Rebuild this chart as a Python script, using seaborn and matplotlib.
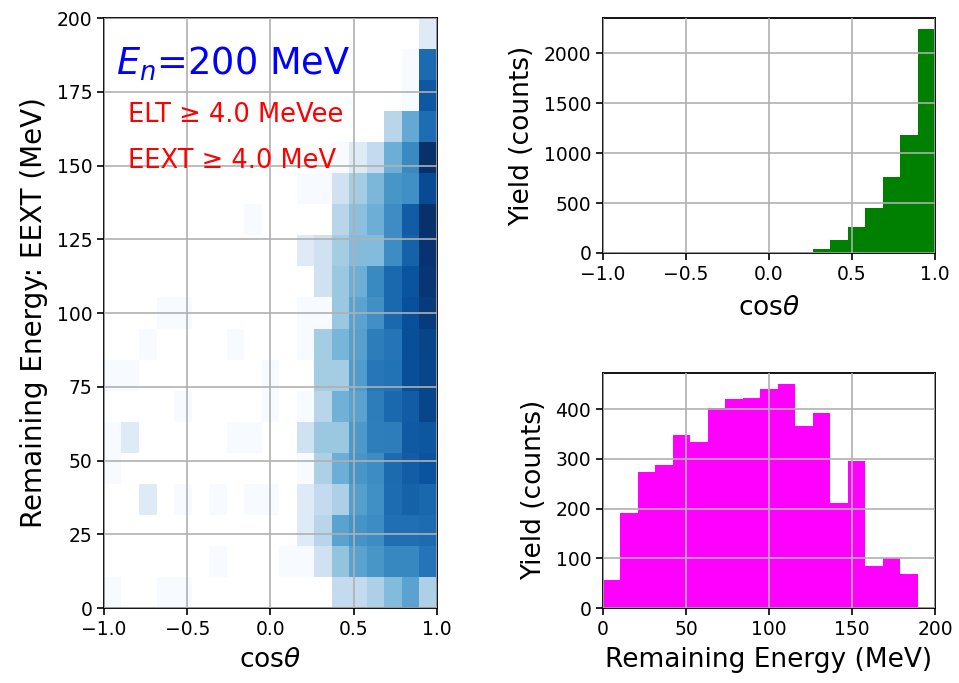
import numpy as np
import pandas as pd
import matplotlib
matplotlib.use("Agg")
import matplotlib.pyplot as plt
import seaborn as sns
from matplotlib.colors import LogNorm

# ---------------- data ----------------
cos_edges = np.linspace(-1.0, 1.0, 20)        # 19 bins in cos(theta)
energy_edges = np.linspace(0.0, 200.0, 20)    # 19 bins in energy (MeV)

# 2D histogram counts: rows = energy bins (low -> high), cols = cos bins (-1 -> 1)
counts_2d = [
    [1, 0, 0, 1, 1, 0, 0, 0, 0, 0, 0, 0, 0, 4, 4, 6, 11, 20, 6],
    [0, 0, 0, 0, 0, 0, 1, 0, 0, 0, 1, 1, 3, 9, 20, 27, 37, 37, 55],
    [0, 0, 0, 0, 0, 0, 0, 0, 0, 0, 0, 2, 5, 20, 28, 33, 60, 60, 65],
    [0, 0, 2, 0, 1, 0, 1, 0, 1, 1, 0, 2, 4, 6, 22, 31, 65, 80, 72],
    [1, 0, 0, 0, 0, 0, 0, 0, 0, 0, 0, 1, 6, 15, 27, 33, 67, 88, 110],
    [1, 2, 0, 0, 0, 0, 0, 1, 1, 0, 0, 3, 8, 8, 25, 45, 46, 95, 100],
    [0, 0, 0, 0, 1, 0, 0, 0, 0, 1, 0, 1, 5, 14, 20, 46, 70, 90, 148],
    [1, 1, 0, 0, 0, 0, 0, 0, 0, 1, 0, 0, 7, 7, 24, 51, 57, 122, 143],
    [0, 0, 1, 0, 0, 0, 0, 1, 0, 0, 0, 1, 7, 13, 21, 46, 54, 119, 152],
    [0, 0, 0, 1, 1, 0, 0, 0, 0, 0, 0, 1, 1, 8, 20, 31, 71, 116, 180],
    [0, 0, 0, 0, 0, 0, 0, 0, 0, 0, 0, 0, 3, 8, 15, 35, 71, 110, 200],
    [0, 0, 0, 0, 0, 0, 0, 0, 0, 0, 0, 2, 3, 7, 11, 11, 33, 79, 210],
    [0, 0, 0, 0, 0, 0, 0, 0, 1, 0, 0, 0, 0, 5, 10, 15, 33, 90, 225],
    [0, 0, 0, 0, 0, 0, 0, 0, 0, 0, 0, 1, 1, 3, 7, 12, 27, 31, 130],
    [0, 0, 0, 0, 0, 0, 0, 0, 0, 0, 0, 0, 0, 1, 2, 4, 15, 35, 228],
    [0, 0, 0, 0, 0, 0, 0, 0, 0, 0, 0, 0, 0, 0, 0, 0, 5, 17, 63],
    [0, 0, 0, 0, 0, 0, 0, 0, 0, 0, 0, 0, 0, 0, 0, 0, 0, 1, 99],
    [0, 0, 0, 0, 0, 0, 0, 0, 0, 0, 0, 0, 0, 0, 0, 0, 0, 1, 68],
    [0, 0, 0, 0, 0, 0, 0, 0, 0, 0, 0, 0, 0, 0, 0, 0, 0, 0, 2],
]

# 1D projections
cos_counts = [5, 3, 3, 2, 4, 0, 2, 2, 3, 3, 1, 8, 43, 133, 260, 450, 757, 1177, 2240]
energy_counts = [56, 192, 273, 288, 348, 335, 403, 421, 423, 441, 451, 367,
                 393, 212, 295, 85, 100, 69, 2]

cos_ticks = [-1.0, -0.5, 0.0, 0.5, 1.0]
eext_ticks = [0, 25, 50, 75, 100, 125, 150, 175, 200]
cos_yield_ticks = [0, 500, 1000, 1500, 2000]
energy_ticks = [0, 50, 100, 150, 200]
energy_yield_ticks = [0, 100, 200, 300, 400]

# ---------------- style ----------------
sns.set_style("ticks")
plt.rcParams['font.family'] = ['DejaVu Sans']
plt.rcParams['mathtext.fontset'] = 'dejavusans'
plt.rcParams['axes.unicode_minus'] = True
plt.rcParams['text.color'] = 'black'
plt.rcParams['axes.labelcolor'] = 'black'
plt.rcParams['xtick.color'] = 'black'
plt.rcParams['ytick.color'] = 'black'
plt.rcParams['xtick.labelcolor'] = 'black'
plt.rcParams['ytick.labelcolor'] = 'black'

TICK_FS = 13.5
LABEL_FS = 19
GRID_KW = dict(color='#b0b0b0', linewidth=1.2)

fig = plt.figure(figsize=(9.59, 6.83), dpi=100)
ax0 = fig.add_axes([0.1084, 0.1098, 0.3473, 0.8638])
ax1 = fig.add_axes([0.6288, 0.6296, 0.3462, 0.3441])
ax2 = fig.add_axes([0.6288, 0.1098, 0.3462, 0.3445])

# ---------------- 2D histogram ----------------
xc = (cos_edges[:-1] + cos_edges[1:]) / 2
yc = (energy_edges[:-1] + energy_edges[1:]) / 2
X, Y = np.meshgrid(xc, yc)
W = np.array(counts_2d, dtype=float)
m = W > 0
df2 = pd.DataFrame({'cos': X[m], 'E': Y[m], 'w': W[m]})
sns.histplot(data=df2, x='cos', y='E', weights='w',
             bins=[list(cos_edges), list(energy_edges)], cmap='Blues', ax=ax0)
mesh = ax0.collections[0]
mesh.set_norm(LogNorm(vmin=1, vmax=W.max()))

ax0.set_xlim(-1, 1)
ax0.set_ylim(0, 200)
ax0.set_xticks(cos_ticks)
ax0.set_yticks(eext_ticks)
ax0.set_xlabel(r'cos$\theta$', fontsize=LABEL_FS, labelpad=6)
ax0.set_ylabel('Remaining Energy: EEXT (MeV)', fontsize=20, labelpad=6)
ax0.text(-0.925, 184.5, r'$E_n$=200 MeV', color='blue', fontsize=26.5, va='center')
ax0.text(-0.855, 167, 'ELT ≥ 4.0 MeVee', color='red', fontsize=18.5, va='center')
ax0.text(-0.855, 151.5, 'EEXT ≥ 4.0 MeV', color='red', fontsize=18.5, va='center')

# ---------------- cos theta projection ----------------
df_cos = pd.DataFrame({'cos': xc, 'w': np.array(cos_counts, dtype=float)})
sns.histplot(data=df_cos, x='cos', weights='w', bins=list(cos_edges), color='green',
             alpha=1, linewidth=0, ax=ax1)
ax1.set_xlim(-1, 1)
ax1.set_xticks(cos_ticks)
ax1.set_yticks(cos_yield_ticks)
ax1.set_xlabel(r'cos$\theta$', fontsize=LABEL_FS, labelpad=8)
ax1.set_ylabel('Yield (counts)', fontsize=LABEL_FS, labelpad=6)

# ---------------- energy projection ----------------
df_e = pd.DataFrame({'E': yc, 'w': np.array(energy_counts, dtype=float)})
sns.histplot(data=df_e, x='E', weights='w', bins=list(energy_edges), color='magenta',
             alpha=1, linewidth=0, ax=ax2)
ax2.set_xlim(0, 200)
ax2.set_xticks(energy_ticks)
ax2.set_yticks(energy_yield_ticks)
ax2.set_xlabel('Remaining Energy (MeV)', fontsize=LABEL_FS, labelpad=6)
ax2.set_ylabel('Yield (counts)', fontsize=LABEL_FS, labelpad=6)

for ax in (ax0, ax1, ax2):
    ax.set_axisbelow(False)
    ax.grid(True, **GRID_KW)
    ax.tick_params(labelsize=TICK_FS, length=5, width=1.2, color='black',
                   labelcolor='black')
    for s in ax.spines.values():
        s.set_visible(True)
        s.set_color('black')
        s.set_linewidth(1.3)

fig.savefig('out.png', dpi=100)
